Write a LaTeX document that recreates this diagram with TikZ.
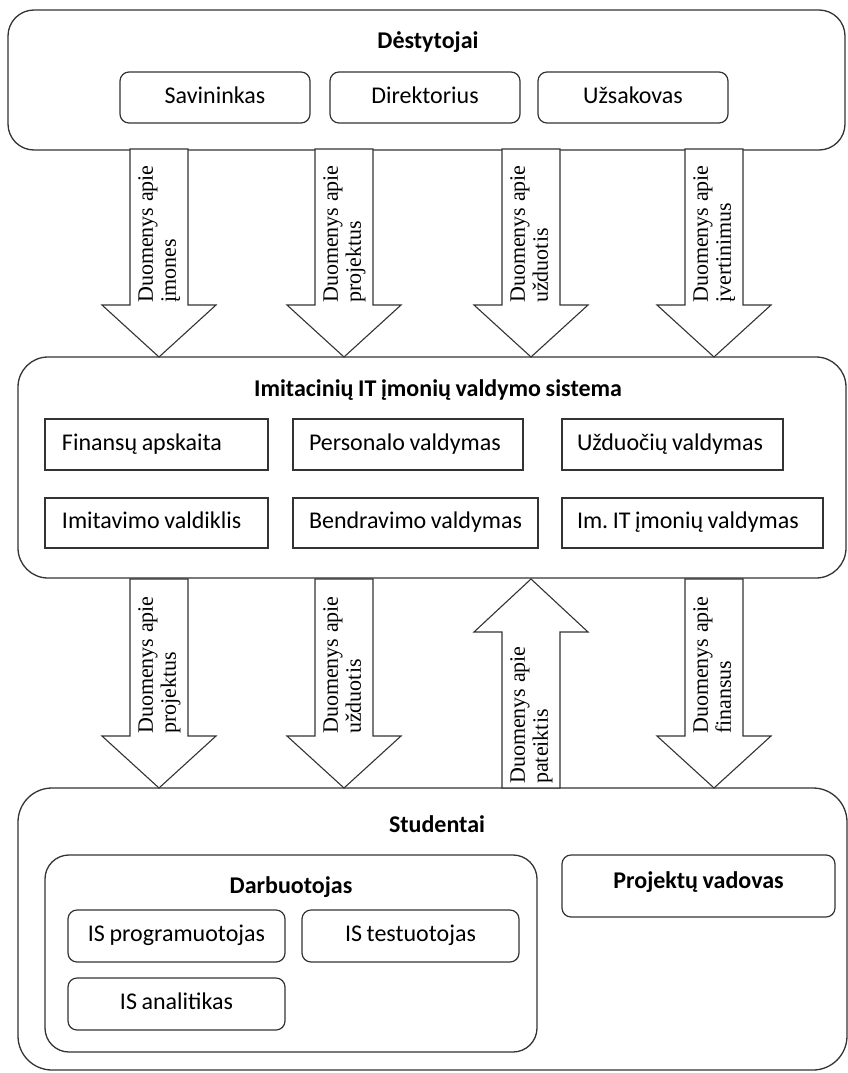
\documentclass[tikz,border=0pt]{standalone}
\usepackage{fontspec}
\setmainfont{Carlito}[WordSpace=0.85]
\newfontfamily\arrowfont{Liberation Serif}
% word spacing for left-aligned box labels (align=left widens it otherwise)
\newcommand\boxlabel[2]{\hspace*{#1}\spaceskip=0.19em\relax #2}
\begin{document}
\frenchspacing
\begin{tikzpicture}[x=1pt,y=-1pt,
  group/.style={draw=black!80, line width=1.3pt, rounded corners=#1, inner sep=0pt},
  group/.default=26pt,
  boxfont/.style={font=\fontsize{24}{26}\selectfont},
  rbox/.style={draw=black!80, line width=1.2pt, rounded corners=9pt, inner sep=0pt,
    boxfont, text height=16pt, text depth=5pt},
  sbox/.style={draw=black!80, line width=1.2pt, inner sep=0pt, align=left,
    boxfont, text height=16pt, text depth=5pt},
  title/.style={font=\bfseries\fontsize{24}{26}\selectfont, inner sep=0pt},
  barrow/.style={draw=black!80, line width=1.1pt, fill=white, line join=miter},
  alabel/.style={font=\arrowfont\fontsize{22}{23}\selectfont, rotate=90, align=left,
    inner sep=0pt, anchor=north west}]
\useasboundingbox (0,0) rectangle (848,1073);

% shafts pointing down: centre x, top y, head base y, tip y
\newcommand\downblock[4]{%
  \draw[barrow] (#1-29,#2) -- (#1-29,#3) -- (#1-57,#3) -- (#1,#4)
    -- (#1+57,#3) -- (#1+29,#3) -- (#1+29,#2) -- cycle;}
% shaft pointing up: centre x, bottom y, head base y, tip y
\newcommand\upblock[4]{%
  \draw[barrow] (#1-29,#2) -- (#1-29,#3) -- (#1-57,#3) -- (#1,#4)
    -- (#1+57,#3) -- (#1+29,#3) -- (#1+29,#2) -- cycle;}

% ---------- teachers ----------
\node[group, minimum width=837pt, minimum height=140pt] (top) at (426.5,80) {};
\node[title] (ttop) at (428,42) {Dėstytojai};
\node[rbox, minimum width=190pt, minimum height=51pt] (own) at (215,97.5) {Savininkas};
\node[rbox, minimum width=190pt, minimum height=51pt] (dir) at (425,97.5) {Direktorius};
\node[rbox, minimum width=190pt, minimum height=51pt] (cust) at (633,97.5) {Užsakovas};

% ---------- system ----------
\node[group=30pt, minimum width=828pt, minimum height=221pt] (sys) at (432,467.5) {};
\node[title] (tsys) at (438,390) {Imitacinių IT įmonių valdymo sistema};
\node[sbox, minimum height=51pt, text width=223pt] (fin) at (156.5,444.5) {\boxlabel{17pt}{Finansų apskaita}};
\node[sbox, minimum height=51pt, text width=230pt] (pers) at (408,444.5) {\boxlabel{16pt}{Personalo valdymas}};
\node[sbox, minimum height=51pt, text width=221pt] (task) at (672.5,444.5) {\boxlabel{15pt}{Užduočių valdymas}};
\node[sbox, minimum height=50pt, text width=223pt] (sim) at (156.5,523) {\boxlabel{17pt}{Imitavimo valdiklis}};
\node[sbox, minimum height=50pt, text width=245pt] (comm) at (415.5,523) {\boxlabel{16pt}{Bendravimo valdymas}};
\node[sbox, minimum height=50pt, text width=261pt] (comp) at (692.5,523) {\boxlabel{15pt}{Im. IT įmonių valdymas}};

% ---------- students ----------
\node[group=34pt, minimum width=829pt, minimum height=282pt] (stud) at (432.5,929) {};
\node[title] (tstud) at (437,824) {Studentai};
\node[group=24pt, minimum width=492pt, minimum height=197pt] (emp) at (291,953.5) {};
\node[title] (temp) at (291,887) {Darbuotojas};
\node[rbox, minimum width=217pt, minimum height=52pt] (prog) at (176.5,936) {IS programuotojas};
\node[rbox, minimum width=217pt, minimum height=52pt] (test) at (410.5,936) {IS testuotojas};
\node[rbox, minimum width=217pt, minimum height=52pt] (anal) at (176.5,1004) {IS analitikas};
\node[rbox, minimum width=273pt, minimum height=62pt, text height=16pt, text depth=12pt,
  font=\bfseries\fontsize{24}{26}\selectfont] (pm) at (698.5,886) {Projektų vadovas};

% ---------- data flows: teachers -> system ----------
\downblock{159}{149}{305}{357}
\downblock{344}{149}{305}{357}
\downblock{531}{149}{305}{357}
\downblock{714}{149}{305}{357}
\node[alabel] (f1) at (138,303) {Duomenys apie\\įmones};
\node[alabel] (f2) at (323,303) {Duomenys apie\\projektus};
\node[alabel] (f3) at (510,303) {Duomenys apie\\užduotis};
\node[alabel] (f4) at (693,303) {Duomenys apie\\įvertinimus};

% ---------- data flows: system <-> students ----------
\downblock{159}{579}{736}{788}
\downblock{344}{579}{736}{788}
\upblock{531}{788}{632}{579}
\downblock{714}{579}{736}{788}
\node[alabel] (g1) at (138,734) {Duomenys apie\\projektus};
\node[alabel] (g2) at (323,734) {Duomenys apie\\užduotis};
\node[alabel] (g3) at (510,784) {Duomenys apie\\pateiktis};
\node[alabel] (g4) at (693,734) {Duomenys apie\\finansus};
\end{tikzpicture}
\end{document}
